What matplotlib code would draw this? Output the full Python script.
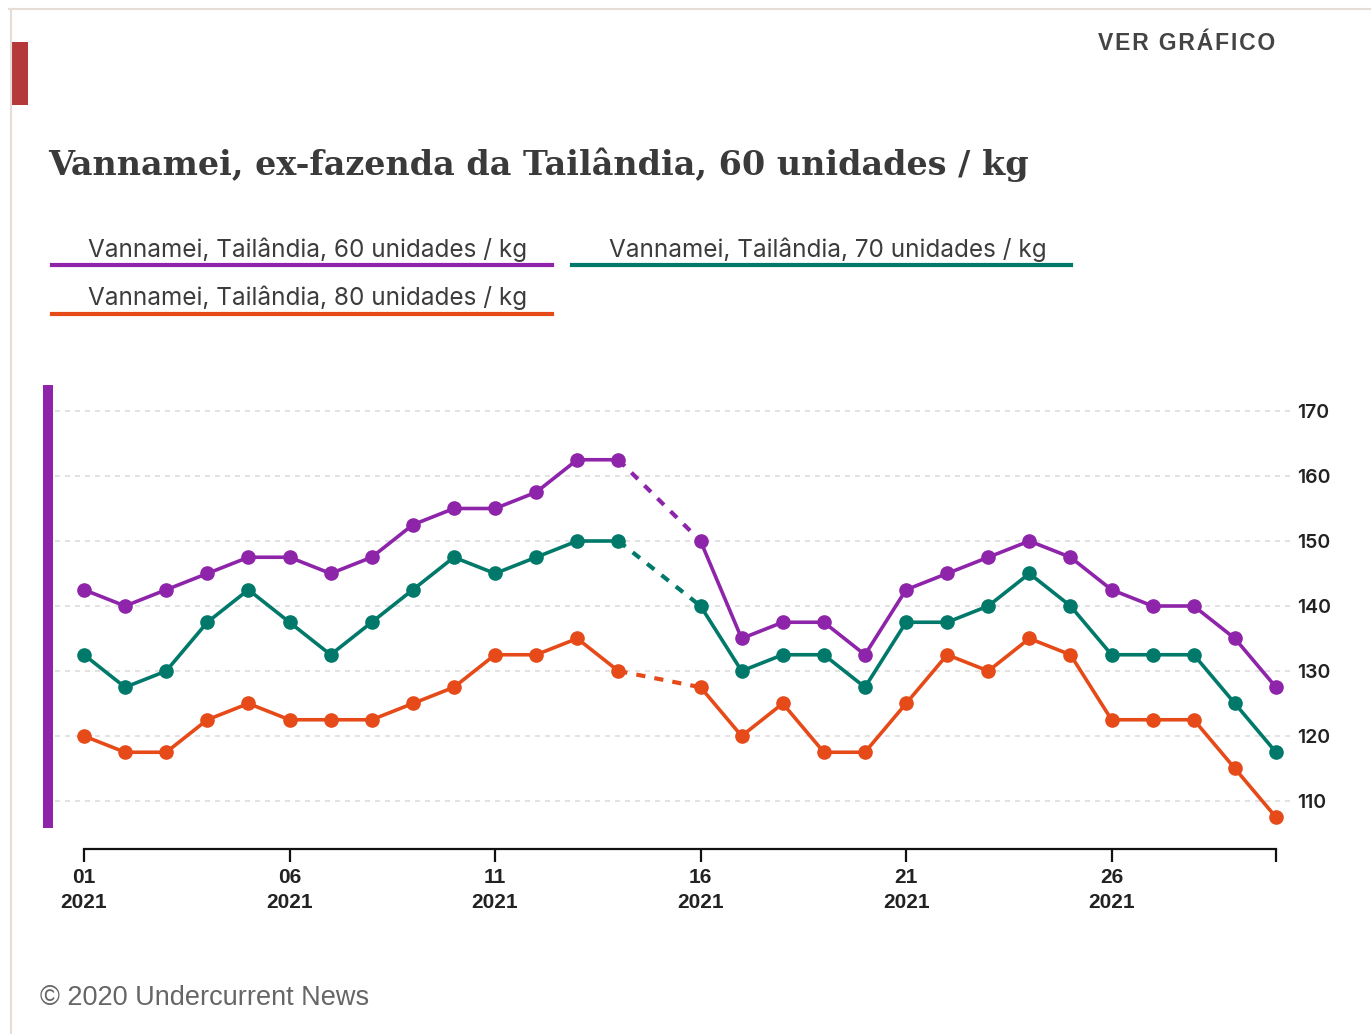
import matplotlib.pyplot as plt
from matplotlib.patches import Rectangle
from matplotlib.lines import Line2D

# data (day of month, price)
days_a = [1, 2, 3, 4, 5, 6, 7, 8, 9, 10, 11, 12, 13, 14]
days_b = [16, 17, 18, 19, 20, 21, 22, 23, 24, 25, 26, 27, 28, 29, 30]

price_60_a = [142.5, 140, 142.5, 145, 147.5, 147.5, 145, 147.5, 152.5, 155, 155, 157.5, 162.5, 162.5]
price_60_b = [150, 135, 137.5, 137.5, 132.5, 142.5, 145, 147.5, 150, 147.5, 142.5, 140, 140, 135, 127.5]

price_70_a = [132.5, 127.5, 130, 137.5, 142.5, 137.5, 132.5, 137.5, 142.5, 147.5, 145, 147.5, 150, 150]
price_70_b = [140, 130, 132.5, 132.5, 127.5, 137.5, 137.5, 140, 145, 140, 132.5, 132.5, 132.5, 125, 117.5]

price_80_a = [120, 117.5, 117.5, 122.5, 125, 122.5, 122.5, 122.5, 125, 127.5, 132.5, 132.5, 135, 130]
price_80_b = [127.5, 120, 125, 117.5, 117.5, 125, 132.5, 130, 135, 132.5, 122.5, 122.5, 122.5, 115, 107.5]

series_names = [
    "Vannamei, Tailândia, 60 unidades / kg",
    "Vannamei, Tailândia, 70 unidades / kg",
    "Vannamei, Tailândia, 80 unidades / kg",
]
series_colors = ["#8e24aa", "#00796b", "#e64a19"]

x_ticks = [1, 6, 11, 16, 21, 26]
x_tick_labels = ["01\n2021", "06\n2021", "11\n2021", "16\n2021", "21\n2021", "26\n2021"]
y_ticks = [110, 120, 130, 140, 150, 160, 170]

W, H = 1371, 1034
fig = plt.figure(figsize=(W / 100, H / 100), dpi=100)
fig.patch.set_facecolor("white")


def px(x, y):
    return x / W, 1 - y / H


# page frame and accents
fig.add_artist(Line2D([9 / W, 1], [1 - 9 / H] * 2, color="#e6ddd6", lw=1.5))
fig.add_artist(Line2D([11 / W] * 2, [0, 1 - 9 / H], color="#e6ddd6", lw=1.5))
fig.add_artist(Rectangle(px(12, 105), 16 / W, 63 / H, color="#b5393b", lw=0))
fig.add_artist(Rectangle(px(43, 828), 10 / W, 443 / H, color="#8e24aa", lw=0))

fig.text(*px(1275, 44), "\u200a".join("VER GRÁFICO"), ha="right", va="center",
         fontsize=16.5, fontweight="bold", color="#444444",
         family=["Liberation Sans", "DejaVu Sans"])
fig.text(*px(48, 165), "Vannamei, ex-fazenda da Tailândia, 60 unidades / kg",
         ha="left", va="center", fontsize=24, fontweight="bold", color="#3a3a3a",
         family="DejaVu Serif")

# legend
legend_pos = [(52, 552, 250, 265), (572, 1071, 250, 265), (52, 552, 298, 314)]
for name, color, (x0, x1, ty, ly) in zip(series_names, series_colors, legend_pos):
    fig.add_artist(Line2D([x0 / W, x1 / W], [1 - ly / H] * 2, color=color, lw=3))
    fig.text(*px((x0 + x1) / 2 + 6, ty), name, ha="center", va="center",
             fontsize=17.5, color="#3c3c3c", family="Inter")

fig.text(*px(40, 998), "© 2020 Undercurrent News", ha="left", va="center",
         fontsize=19.5, color="#666666", family="Liberation Sans")

# plot area
ax_l, ax_r, ax_t, ax_b = 55, 1290, 385, 849
ax = fig.add_axes([ax_l / W, 1 - ax_b / H, (ax_r - ax_l) / W, (ax_b - ax_t) / H])
ax.set_xlim(1 - (84 - ax_l) / 41.1, 30 + (ax_r - 1276) / 41.1)
ax.set_ylim(110 - (ax_b - 801) / 6.5, 170 + (411 - ax_t) / 6.5)

for y in y_ticks:
    ax.axhline(y, color="#dddddd", lw=1.2, ls=(0, (3, 3)), zorder=0)

groups = [
    (price_60_a, price_60_b),
    (price_70_a, price_70_b),
    (price_80_a, price_80_b),
]
for (va, vb), color in zip(groups, series_colors):
    ax.plot(days_a, va, color=color, lw=2.6, marker="o", ms=9.5, zorder=3)
    ax.plot(days_b, vb, color=color, lw=2.6, marker="o", ms=9.5, zorder=3)
    ax.plot([days_a[-1], days_b[0]], [va[-1], vb[0]], color=color, lw=3,
            ls=(0, (2.2, 2.2)), zorder=2)

for side in ["top", "left", "right"]:
    ax.spines[side].set_visible(False)
ax.spines["bottom"].set_bounds(1, 30)
ax.spines["bottom"].set_linewidth(1.6)
ax.spines["bottom"].set_color("#111111")

ax.set_xticks(x_ticks + [30])
ax.set_xticklabels(x_tick_labels + [""], fontsize=15, fontweight="bold",
                   family="Liberation Sans", color="#222222", linespacing=1.4)
ax.tick_params(axis="x", length=9, width=1.6, color="#111111", pad=5)

ax.yaxis.tick_right()
ax.set_yticks(y_ticks)
ax.set_yticklabels([str(v) for v in y_ticks], fontsize=14, family="Inter",
                   fontweight="semibold", color="#222222")
ax.tick_params(axis="y", length=0, pad=5)
ax.set_facecolor("none")

fig.savefig("out.png", dpi=100)
